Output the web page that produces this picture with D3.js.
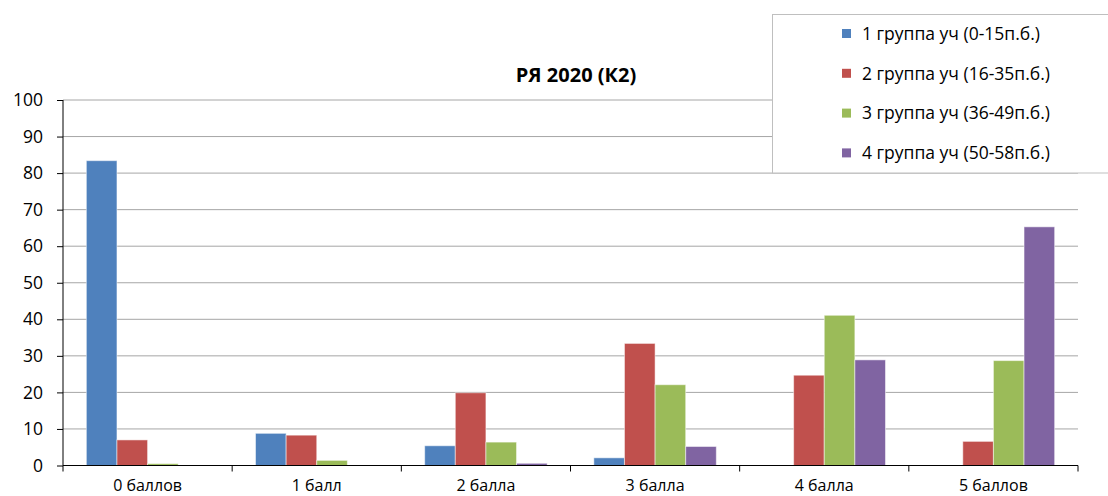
<!DOCTYPE html>
<html><head><meta charset="utf-8">
<script src="https://cdn.jsdelivr.net/npm/d3@7"></script>
<style>body{margin:0;background:#fff}svg{display:block}text{font-family:"Open Sans",sans-serif;fill:#000}</style>
</head><body><svg id="c" width="1108" height="496"></svg>
<script>
const categories = ["0 баллов","1 балл","2 балла","3 балла","4 балла","5 баллов"];
const seriesNames = ["1 группа уч (0-15п.б.)","2 группа уч (16-35п.б.)","3 группа уч (36-49п.б.)","4 группа уч (50-58п.б.)"];
const group1 = [83.4, 8.8, 5.4, 2.1, 0, 0];
const group2 = [7.0, 8.3, 19.9, 33.4, 24.7, 6.6];
const group3 = [0.5, 1.4, 6.4, 22.1, 41.1, 28.7];
const group4 = [0, 0, 0.6, 5.2, 28.9, 65.3];
const yTicks = [0,10,20,30,40,50,60,70,80,90,100];
const colors = ["#4f81bd","#c0504d","#9bbb59","#8064a2"];
const title = "РЯ 2020 (К2)";

const series = [group1, group2, group3, group4];
const svg = d3.select("#c");
const L = 63, R = 1078, T = 100, B = 465.5;

const x0 = d3.scaleBand().domain(categories).range([L, R]).paddingInner(0.276).paddingOuter(0.138);
const x1 = d3.scaleBand().domain(d3.range(series.length)).range([0, x0.bandwidth()]);
const y = d3.scaleLinear().domain([0, 100]).range([B, T]);

// gridlines
svg.append("g").selectAll("line").data(yTicks.filter(d => d > 0)).join("line")
  .attr("x1", L).attr("x2", R).attr("y1", d => y(d)).attr("y2", d => y(d))
  .attr("stroke", "#a6a6a6").attr("stroke-width", 1);

// bars
svg.append("g").selectAll("g").data(categories).join("g")
  .attr("transform", d => `translate(${x0(d)},0)`)
  .selectAll("rect").data((d, i) => series.map((s, k) => ({k, v: s[i]}))).join("rect")
  .attr("x", d => x1(d.k)).attr("width", x1.bandwidth())
  .attr("y", d => y(d.v)).attr("height", d => B - y(d.v))
  .attr("fill", d => colors[d.k])
  .attr("stroke", d => d.v > 0 ? "rgba(255,255,255,0.5)" : "none").attr("stroke-width", 1);

// y axis
const ya = svg.append("g").attr("transform", `translate(${L},0)`)
  .call(d3.axisLeft(y).tickValues(yTicks).tickSize(6).tickPadding(14));
ya.select(".domain").attr("stroke", "#000").attr("d", `M0,${T}V${B}`);
ya.selectAll(".tick line").attr("stroke", "#000");
ya.selectAll(".tick text").attr("font-size", 17.5).attr("fill", "#000").attr("font-family", '"Open Sans",sans-serif');

// x axis
const xa = svg.append("g").attr("transform", `translate(0,${B})`);
xa.append("line").attr("x1", L).attr("x2", R).attr("stroke", "#000").attr("stroke-width", 1.2);
const bounds = d3.range(categories.length + 1).map(i => L + i * x0.step());
xa.selectAll(".tk").data(bounds).join("line").attr("class", "tk")
  .attr("x1", d => d).attr("x2", d => d).attr("y1", 0).attr("y2", 6).attr("stroke", "#000");
xa.selectAll(".lb").data(categories).join("text").attr("class", "lb")
  .attr("x", d => x0(d) + x0.bandwidth() / 2).attr("y", 25)
  .attr("text-anchor", "middle").attr("font-size", 16).text(d => d);

// title
svg.append("text").attr("x", 576).attr("y", 81.5).attr("text-anchor", "middle")
  .attr("font-size", 20).attr("font-weight", "bold").text(title);

// legend
svg.append("rect").attr("x", 772.5).attr("y", 14.5).attr("width", 345).attr("height", 158.5)
  .attr("fill", "#fff").attr("stroke", "#bfbfbf").attr("stroke-width", 1);
const lg = svg.append("g").selectAll("g").data(seriesNames).join("g")
  .attr("transform", (d, i) => `translate(842,${33.5 + i * 39.8})`);
lg.append("rect").attr("x", 0).attr("y", -4.5).attr("width", 9).attr("height", 9).attr("fill", (d, i) => colors[i]);
lg.append("text").attr("x", 20).attr("y", 0).attr("dy", "0.36em").attr("font-size", 17.5).text(d => d);
</script></body></html>
